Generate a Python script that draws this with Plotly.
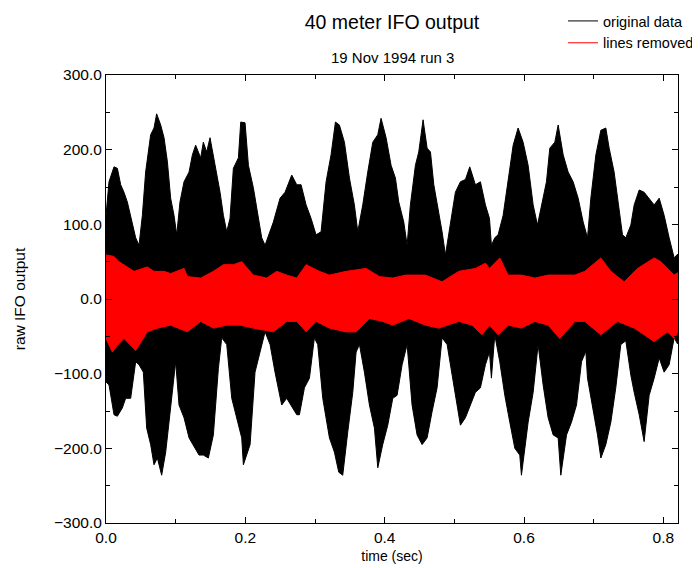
import plotly.graph_objects as go

# ---- data (envelopes of the dense time series) ----
# original data: upper envelope (time, value)
orig_top_t = [0.0, 0.0043, 0.0115, 0.0163, 0.0211, 0.0258, 0.0306, 0.0354, 0.0426, 0.0474,
              0.0522, 0.0569, 0.0641, 0.0689, 0.0727, 0.0785, 0.0833, 0.0881, 0.0928, 0.0976,
              0.1015, 0.1062, 0.1120, 0.1192, 0.1240, 0.1287, 0.1359, 0.1397, 0.1445, 0.1493,
              0.1565, 0.1637, 0.1685, 0.1733, 0.1780, 0.1828, 0.1900, 0.1934, 0.1996, 0.2044,
              0.2115, 0.2163, 0.2235, 0.2283, 0.2355, 0.2402, 0.2498, 0.2570, 0.2666, 0.2738,
              0.2800, 0.2872, 0.2943, 0.3015, 0.3087, 0.3159, 0.3230, 0.3293, 0.3350, 0.3422,
              0.3494, 0.3565, 0.3614, 0.3685, 0.3757, 0.3829, 0.3901, 0.3948, 0.4020, 0.4092,
              0.4154, 0.4202, 0.4274, 0.4322, 0.4369, 0.4441, 0.4489, 0.4551, 0.4609, 0.4657,
              0.4705, 0.4776, 0.4824, 0.4872, 0.4944, 0.5015, 0.5087, 0.5159, 0.5221, 0.5302,
              0.5374, 0.5446, 0.5504, 0.5532, 0.5580, 0.5628, 0.5700, 0.5772, 0.5844, 0.5915,
              0.5987, 0.6059, 0.6131, 0.6193, 0.6250, 0.6322, 0.6370, 0.6442, 0.6490, 0.6562,
              0.6633, 0.6705, 0.6777, 0.6849, 0.6911, 0.6959, 0.7031, 0.7103, 0.7174, 0.7222,
              0.7293, 0.7341, 0.7413, 0.7461, 0.7533, 0.7581, 0.7653, 0.7724, 0.7796, 0.7868,
              0.7940, 0.8011, 0.8083, 0.8155, 0.8203]
orig_top = [112, 157, 177, 175, 153, 143, 130, 112, 82, 72,
            112, 170, 220, 229, 248, 233, 216, 184, 135, 112,
            86, 130, 157, 170, 193, 206, 189, 210, 197, 216,
            179, 143, 112, 90, 108, 175, 189, 237, 236, 179,
            149, 122, 82, 72, 90, 103, 135, 143, 166, 153,
            153, 126, 108, 86, 90, 157, 193, 237, 233, 210,
            162, 126, 90, 126, 170, 210, 220, 242, 216, 179,
            162, 130, 103, 72, 126, 179, 197, 240, 202, 197,
            153, 117, 90, 59, 99, 143, 157, 160, 177, 153,
            157, 126, 108, 72, 82, 86, 112, 157, 206, 229,
            210, 179, 126, 99, 126, 157, 202, 210, 233, 193,
            170, 157, 135, 103, 82, 135, 193, 226, 229, 202,
            170, 139, 86, 82, 99, 126, 146, 143, 135, 126,
            135, 112, 82, 55, 60]

# original data: lower envelope (time, value)
orig_bot_t = [0.0, 0.0043, 0.0115, 0.0163, 0.0234, 0.0282, 0.0354, 0.0426, 0.0474, 0.0536,
              0.0584, 0.0641, 0.0689, 0.0737, 0.0799, 0.0857, 0.0904, 0.0952, 0.1000, 0.1048,
              0.1120, 0.1192, 0.1254, 0.1335, 0.1397, 0.1469, 0.1541, 0.1613, 0.1661, 0.1733,
              0.1805, 0.1876, 0.1948, 0.1972, 0.2068, 0.2139, 0.2211, 0.2283, 0.2355, 0.2426,
              0.2522, 0.2594, 0.2738, 0.2776, 0.2848, 0.2920, 0.2991, 0.3039, 0.3111, 0.3207,
              0.3278, 0.3341, 0.3398, 0.3470, 0.3542, 0.3590, 0.3638, 0.3709, 0.3781, 0.3853,
              0.3901, 0.3972, 0.4044, 0.4116, 0.4178, 0.4250, 0.4322, 0.4393, 0.4465, 0.4537,
              0.4609, 0.4680, 0.4752, 0.4824, 0.4896, 0.4967, 0.5039, 0.5087, 0.5159, 0.5230,
              0.5302, 0.5374, 0.5446, 0.5504, 0.5532, 0.5580, 0.5652, 0.5724, 0.5796, 0.5868,
              0.5939, 0.5963, 0.6059, 0.6131, 0.6202, 0.6274, 0.6346, 0.6418, 0.6490, 0.6528,
              0.6610, 0.6681, 0.6753, 0.6825, 0.6887, 0.6911, 0.6983, 0.7055, 0.7103, 0.7174,
              0.7246, 0.7317, 0.7389, 0.7461, 0.7533, 0.7581, 0.7653, 0.7724, 0.7796, 0.7868,
              0.7940, 0.8011, 0.8083, 0.8155, 0.8203]
orig_bot = [-111, -115, -155, -157, -146, -133, -133, -84, -88, -98,
            -173, -195, -222, -213, -236, -205, -173, -125, -84, -142,
            -159, -186, -195, -209, -209, -213, -182, -93, -52, -61,
            -133, -159, -186, -222, -195, -98, -71, -44, -61, -98,
            -142, -133, -155, -155, -119, -106, -52, -61, -133, -186,
            -205, -232, -236, -178, -125, -71, -61, -98, -142, -173,
            -226, -195, -169, -133, -129, -88, -61, -142, -182, -195,
            -186, -151, -119, -52, -61, -98, -142, -169, -159, -142,
            -125, -119, -88, -71, -106, -48, -84, -129, -165, -200,
            -209, -236, -165, -125, -61, -115, -159, -182, -186, -236,
            -182, -165, -142, -84, -70, -106, -142, -182, -213, -195,
            -165, -119, -61, -56, -102, -125, -155, -191, -129, -106,
            -79, -98, -88, -52, -60]

# lines removed: upper envelope
clean_top_t = [0.0, 0.0115, 0.0187, 0.0258, 0.0402, 0.0593, 0.0689, 0.0833, 0.0928, 0.1120,
               0.1168, 0.1359, 0.1445, 0.1541, 0.1685, 0.1828, 0.1948, 0.2115, 0.2307, 0.2450,
               0.2594, 0.2738, 0.2872, 0.3063, 0.3207, 0.3446, 0.3733, 0.3924, 0.4116, 0.4298,
               0.4585, 0.4824, 0.5063, 0.5303, 0.5446, 0.5504, 0.5652, 0.5772, 0.5963, 0.6155,
               0.6346, 0.6537, 0.6729, 0.6873, 0.7102, 0.7246, 0.7437, 0.7629, 0.7868, 0.7964,
               0.8155, 0.8203]
clean_top = [59, 57, 50, 46, 37, 43, 37, 37, 34, 41,
             30, 28, 32, 37, 46, 46, 50, 32, 28, 37,
             32, 28, 46, 37, 32, 37, 41, 30, 28, 32,
             32, 23, 37, 41, 48, 41, 55, 32, 32, 28,
             32, 32, 32, 37, 55, 37, 23, 41, 55, 50,
             32, 35]

# lines removed: lower envelope
clean_bot_t = [0.0, 0.0091, 0.0163, 0.0258, 0.0426, 0.0593, 0.0737, 0.0928, 0.1168, 0.1359,
               0.1541, 0.1733, 0.1924, 0.2115, 0.2402, 0.2594, 0.2738, 0.2872, 0.3015, 0.3207,
               0.3446, 0.3590, 0.3781, 0.3972, 0.4116, 0.4346, 0.4585, 0.4776, 0.5063, 0.5254,
               0.5398, 0.5504, 0.5628, 0.5772, 0.5963, 0.6154, 0.6346, 0.6514, 0.6729, 0.6873,
               0.7103, 0.7341, 0.7581, 0.7868, 0.8059, 0.8155, 0.8203]
clean_bot = [-53, -71, -62, -53, -69, -44, -39, -35, -44, -30,
             -39, -35, -35, -39, -44, -30, -30, -44, -30, -39,
             -44, -44, -26, -30, -35, -26, -35, -39, -30, -35,
             -48, -35, -48, -35, -39, -30, -35, -53, -30, -30,
             -48, -30, -39, -57, -44, -53, -45]

x_tick_vals = [0.0, 0.2, 0.4, 0.6, 0.8]
y_tick_vals = [-300, -200, -100, 0, 100, 200, 300]

FONT = "Liberation Sans, Arial, Helvetica, sans-serif"

# The page places the figure 8 px from the top-left corner of the window,
# so the figure is 8 px smaller than the window and margins are offset.
W, H = 692, 560
ML, MR, MT, MB = 98, 22, 67, 45
PLOT_H = H - MT - MB


def band(t_top, v_top, t_bot, v_bot):
    xs = list(t_top) + list(reversed(t_bot))
    ys = list(v_top) + list(reversed(v_bot))
    xs.append(t_top[0])
    ys.append(v_top[0])
    return xs, ys


fig = go.Figure()

bx, by = band(orig_top_t, orig_top, orig_bot_t, orig_bot)
fig.add_trace(go.Scatter(x=bx, y=by, mode="lines", fill="toself",
                         fillcolor="black", line=dict(color="black", width=1),
                         showlegend=False, hoverinfo="skip"))
rx, ry = band(clean_top_t, clean_top, clean_bot_t, clean_bot)
fig.add_trace(go.Scatter(x=rx, y=ry, mode="lines", fill="toself",
                         fillcolor="#ff0000", line=dict(color="#ff0000", width=1),
                         showlegend=False, hoverinfo="skip"))

# legend entries
fig.add_trace(go.Scatter(x=[None], y=[None], mode="lines", name="original data",
                         line=dict(color="black", width=1)))
fig.add_trace(go.Scatter(x=[None], y=[None], mode="lines", name="lines removed",
                         line=dict(color="#ff0000", width=1)))

axis_common = dict(showgrid=False, zeroline=False, showline=True, linecolor="black",
                   linewidth=1, mirror="ticks", ticks="inside", tickcolor="black",
                   tickfont=dict(family=FONT, size=15.5, color="black"), tickformat=".1f")

fig.update_xaxes(range=[0, 0.821], tickvals=x_tick_vals, ticklen=6,
                 minor=dict(ticks="inside", dtick=0.1, ticklen=4, tickcolor="black"),
                 title=dict(text="time (sec)", font=dict(family=FONT, size=14, color="black"),
                            standoff=6),
                 **axis_common)
fig.update_yaxes(range=[-300, 300], tickvals=y_tick_vals, ticklen=6,
                 minor=dict(ticks="inside", dtick=50, ticklen=4, tickcolor="black"),
                 title=dict(text="raw IFO output", font=dict(family=FONT, size=15.5, color="black"),
                            standoff=24),
                 **axis_common)

fig.update_layout(
    width=W, height=H,
    margin=dict(l=ML, r=MR, t=MT, b=MB, autoexpand=False),
    paper_bgcolor="white", plot_bgcolor="white",
    font=dict(family=FONT, size=15, color="black"),
    title=dict(text="40 meter IFO output", x=(392 - 8) / W, xanchor="center",
               y=1 - 14 / H, yanchor="middle",
               font=dict(family=FONT, size=19.5, color="black")),
    legend=dict(x=1 + (MR - 1) / (W - ML - MR), xanchor="right",
                y=1 + (MT + 3) / PLOT_H, yanchor="top",
                bgcolor="rgba(0,0,0,0)", font=dict(family=FONT, size=14.5, color="black"),
                tracegroupgap=0, itemwidth=30),
    annotations=[dict(text="19 Nov 1994 run 3", x=0.5, xref="paper", xanchor="center",
                      y=1 + (75 - 57) / PLOT_H,
                      yref="paper", yanchor="middle", showarrow=False,
                      font=dict(family=FONT, size=15, color="black"))],
)

fig.write_html("out.html")
